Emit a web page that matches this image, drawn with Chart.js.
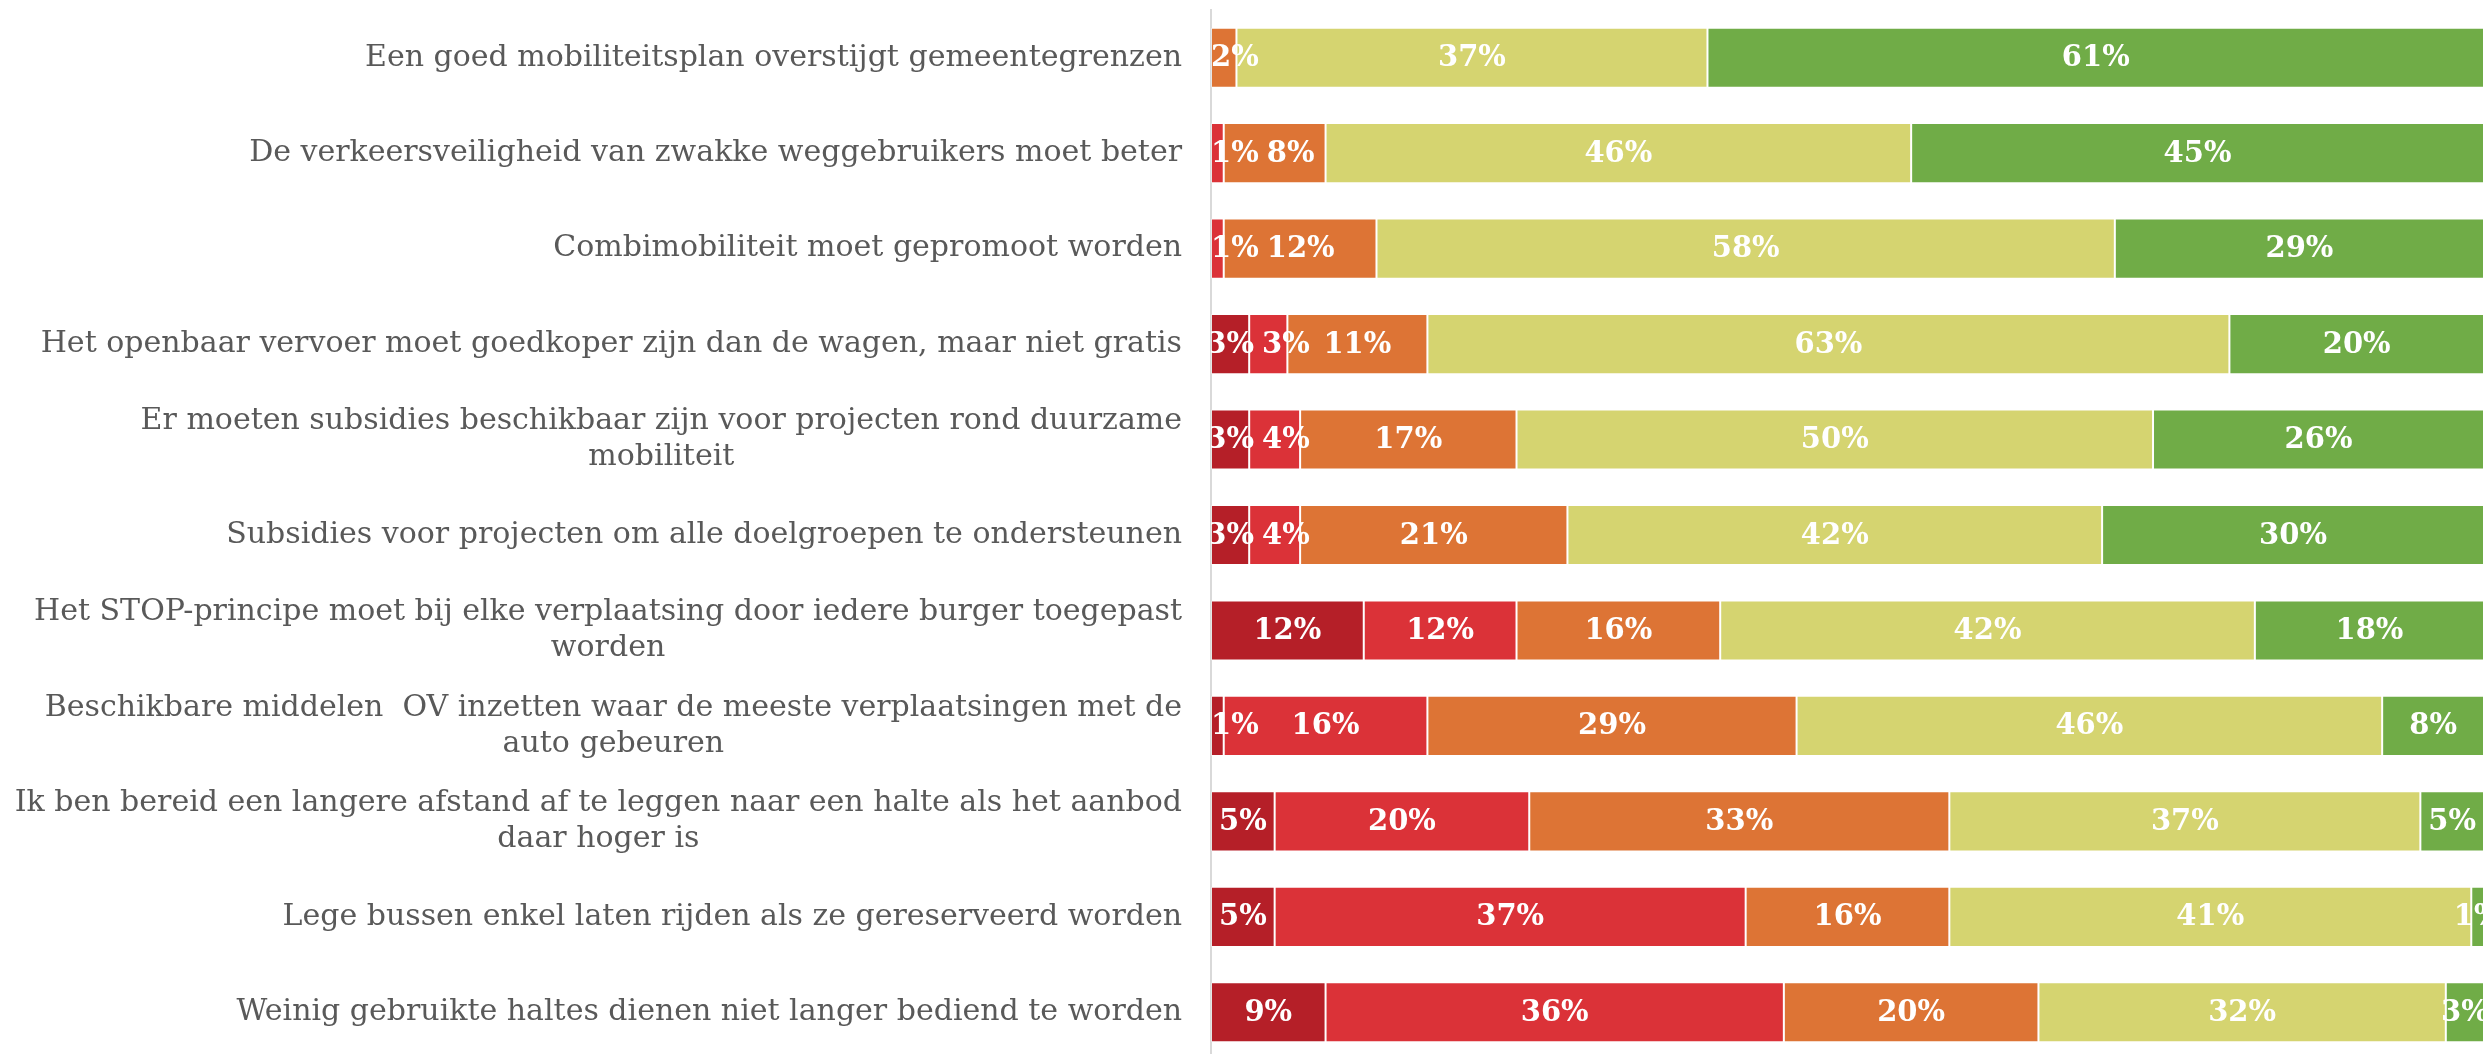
<!DOCTYPE html>
<html>
<head>
<meta charset="utf-8">
<script src="https://cdn.jsdelivr.net/npm/chart.js@4/dist/chart.umd.min.js"></script>
<style>
    html, body { margin: 0; padding: 0; overflow: hidden; background: #ffffff; }
    #wrap { position: absolute; left: 0; top: 0; width: 2484px; height: 1060px; }
</style>
</head>
<body>
<div id="wrap"><canvas id="stellingen" width="2484" height="1060"></canvas></div>
<script>
// stellingen (van boven naar onder)
const stellingen = [
    "Een goed mobiliteitsplan overstijgt gemeentegrenzen",
    "De verkeersveiligheid van zwakke weggebruikers moet beter",
    "Combimobiliteit moet gepromoot worden",
    "Het openbaar vervoer moet goedkoper zijn dan de wagen, maar niet gratis",
    ["Er moeten subsidies beschikbaar zijn voor projecten rond duurzame", "mobiliteit"],
    "Subsidies voor projecten om alle doelgroepen te ondersteunen",
    ["Het STOP-principe moet bij elke verplaatsing door iedere burger toegepast", "worden"],
    ["Beschikbare middelen  OV inzetten waar de meeste verplaatsingen met de", "auto gebeuren"],
    ["Ik ben bereid een langere afstand af te leggen naar een halte als het aanbod", "daar hoger is"],
    "Lege bussen enkel laten rijden als ze gereserveerd worden",
    "Weinig gebruikte haltes dienen niet langer bediend te worden"
]

// percentages per antwoord
const heelOneens = [0, 0, 0, 3, 3, 3, 12, 1, 5, 5, 9]
const oneens     = [0, 1, 1, 3, 4, 4, 12, 16, 20, 37, 36]
const neutraal   = [2, 8, 12, 11, 17, 21, 16, 29, 33, 16, 20]
const eens       = [37, 46, 58, 63, 50, 42, 42, 46, 37, 41, 32]
const heelEens   = [61, 45, 29, 20, 26, 30, 18, 8, 5, 1, 3]

const kleuren = ["#b51f28", "#db3238", "#dd7435", "#d5d470", "#70ac47"]

const LABEL_RIGHT = 1182
const AXIS_X = 1211

function reeks(label, data, kleur) {
    return {
        label: label,
        data: data,
        backgroundColor: kleur,
        borderColor: "rgba(255,255,255,0.35)",
        borderWidth: 1,
        borderSkipped: false,
        barPercentage: 0.63,
        categoryPercentage: 1.0
    }
}

// witte percentages in de balken
const waardeLabels = {
    id: 'waardeLabels',
    afterDatasetsDraw(chart) {
        const ctx = chart.ctx
        const area = chart.chartArea
        ctx.save()
        ctx.beginPath()
        ctx.rect(area.left, area.top, area.right - area.left, area.bottom - area.top)
        ctx.clip()
        ctx.font = "bold 29px 'DejaVu Serif'"
        ctx.fillStyle = "#ffffff"
        ctx.textAlign = "center"
        ctx.textBaseline = "middle"
        const n = chart.data.labels.length
        for (let j = 0; j < n; j++) {
            let vorigeRechts = -Infinity
            chart.data.datasets.forEach((ds, i) => {
                const v = ds.data[j]
                if (!v) return
                const bar = chart.getDatasetMeta(i).data[j]
                const txt = v + "%"
                const w = ctx.measureText(txt).width
                let cx = (bar.x + bar.base) / 2
                if (cx - w / 2 < area.left - 6) cx = area.left + w / 2
                // niet over het vorige label heen schrijven
                if (cx - w / 2 < vorigeRechts + 8) cx = vorigeRechts + 8 + w / 2
                ctx.fillText(txt, cx, bar.y + 1)
                vorigeRechts = cx + w / 2
            })
        }
        ctx.restore()
    }
}

// stellingen links, tweede regel gecentreerd onder de eerste
const stellingLabels = {
    id: 'stellingLabels',
    afterDraw(chart) {
        const ctx = chart.ctx
        const yScale = chart.scales.y
        const lineHeight = 36
        ctx.save()
        ctx.font = "30px 'DejaVu Serif'"
        ctx.fillStyle = "#595959"
        ctx.textBaseline = "middle"
        ctx.textAlign = "center"
        stellingen.forEach((lab, i) => {
            const lines = Array.isArray(lab) ? lab : [lab]
            const y = yScale.getPixelForValue(i)
            const maxW = Math.max(...lines.map(l => ctx.measureText(l).width))
            const cx = LABEL_RIGHT - maxW / 2
            const y0 = y - (lines.length - 1) * lineHeight / 2
            lines.forEach((l, k) => {
                ctx.fillText(l, cx, y0 + k * lineHeight)
            })
        })
        ctx.restore()
    }
}

const chart = new Chart(document.getElementById('stellingen').getContext('2d'), {
    type: 'bar',
    data: {
        labels: stellingen,
        datasets: [
            reeks("Helemaal oneens", heelOneens, kleuren[0]),
            reeks("Oneens", oneens, kleuren[1]),
            reeks("Neutraal", neutraal, kleuren[2]),
            reeks("Eens", eens, kleuren[3]),
            reeks("Helemaal eens", heelEens, kleuren[4])
        ]
    },
    options: {
        indexAxis: 'y',
        responsive: false,
        devicePixelRatio: 1,
        animation: false,
        layout: { padding: { top: 10, bottom: 0, left: 0, right: 0 } },
        plugins: {
            legend: { display: false },
            tooltip: { enabled: false }
        },
        scales: {
            x: {
                stacked: true,
                min: 0,
                max: 100,
                display: false
            },
            y: {
                stacked: true,
                grid: { display: false, drawTicks: false },
                border: { display: true, color: "#d9d9d9", width: 2 },
                ticks: { display: false },
                afterFit(scale) { scale.width = AXIS_X }
            }
        }
    },
    plugins: [waardeLabels, stellingLabels]
})
</script>
</body>
</html>
